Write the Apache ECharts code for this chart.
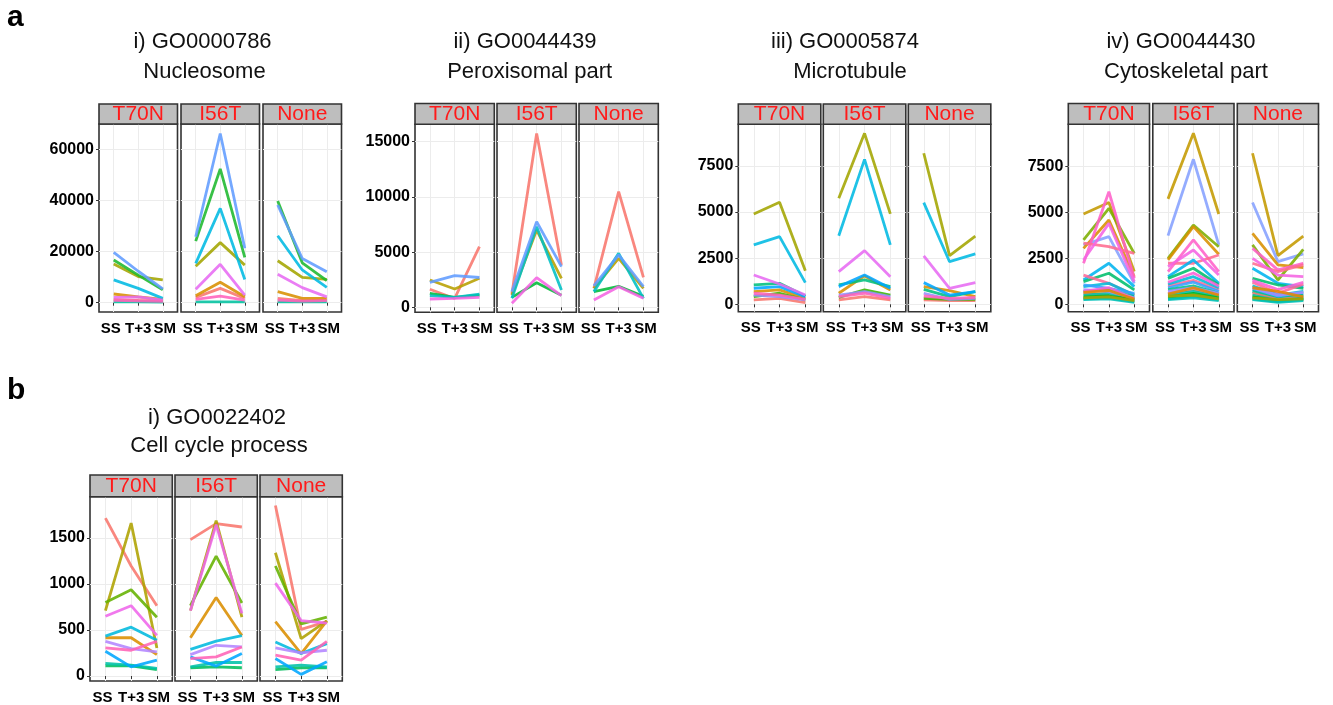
<!DOCTYPE html>
<html><head><meta charset="utf-8">
<script src="https://cdn.jsdelivr.net/npm/echarts@6.0.0/dist/echarts.min.js"></script>
<style>html,body{margin:0;padding:0;background:#fff}#c{width:1333px;height:705px}</style>
</head><body><div id="c"></div><script>
// ---------- categories / labels ----------
const categories = ['SS', 'T+3', 'SM'];
const facetNames = ['T70N', 'I56T', 'None'];
const panelLetters = ['a', 'b'];
const titleLine1 = ['i) GO0000786', 'ii) GO0044439', 'iii) GO0005874', 'iv) GO0044430', 'i) GO0022402'];
const titleLine2 = ['Nucleosome', 'Peroxisomal part', 'Microtubule', 'Cytoskeletal part', 'Cell cycle process'];
const yTickValues = [
  [0, 20000, 40000, 60000],
  [0, 5000, 10000, 15000],
  [0, 2500, 5000, 7500],
  [0, 2500, 5000, 7500],
  [0, 500, 1000, 1500]
];

// ---------- a-i Nucleosome (values per gene: SS, T+3, SM) ----------
const nucleosomeColors = ['#F8766D','#D89000','#A3A500','#1DB82E','#00C19F','#00B9E3','#619CFF','#E76BF3','#FF62BC'];
const nucleosomeT70N = [[1300,900,700],[3400,2300,1300],[15100,10200,8900],[16700,10800,5000],[300,300,200],[8900,5600,1700],[19700,12300,5400],[2100,2300,1000],[900,700,500]];
const nucleosomeI56T = [[2100,5600,1700],[2700,8000,2300],[14300,23500,14700],[24100,52300,17700],[300,300,300],[15400,36900,9100],[25800,66200,21300],[5300,15000,3000],[1300,2600,1000]];
const nucleosomeNone = [[1700,800,1000],[4300,1700,1700],[16400,9900,9100],[39800,15600,8600],[300,300,300],[26200,12800,6000],[38200,17300,12100],[11100,5900,2300],[1000,600,800]];

// ---------- a-ii Peroxisomal part ----------
const peroxisomalColors = ['#F8766D','#B79F00','#00BA38','#00BFC4','#619CFF','#F564E3'];
const peroxisomalT70N = [[1630,800,5500],[2475,1660,2625],[1270,900,1100],[1050,900,1200],[2260,2870,2700],[750,800,900]];
const peroxisomalI56T = [[1200,15750,3830],[1100,7000,2625],[900,2230,1100],[815,7300,1570],[1420,7760,3680],[360,2690,1050]];
const peroxisomalNone = [[1720,10470,2720],[1720,4440,1720],[1420,1900,1000],[1420,4890,815],[1930,4740,1870],[660,1870,815]];

// ---------- a-iii Microtubule ----------
const microtubuleColors = ['#F8766D','#D89000','#A3A500','#39B600','#00BF7D','#00B9E3','#00A6FF','#9590FF','#E76BF3','#FF62BC'];
const microtubuleT70N = [[235,325,90],[690,780,325],[4900,5530,1825],[415,600,235],[1050,1140,450],[3220,3670,1175],[870,960,415],[500,415,235],[1590,1100,500],[600,500,270]];
const microtubuleI56T = [[235,415,235],[600,1540,780],[5750,9270,4900],[380,780,500],[1050,1320,960],[3720,7860,3220],[960,1590,870],[500,690,415],[1770,2910,1500],[415,600,325]];
const microtubuleNone = [[235,200,200],[960,740,415],[8190,2640,3700],[325,270,270],[810,415,690],[5510,2310,2730],[1175,500,690],[600,270,325],[2620,870,1175],[450,325,380]];

// ---------- a-iv Cytoskeletal part ----------
const cytoskeletalColors = ['#C49A00','#85A0FF','#7CAE00','#D89000','#FF61C9','#FF6C91','#F564E3','#00B4EF','#00BE6C','#FF6A98','#00BCD8','#35A2FF','#00C08B','#F8766D','#00C1AA','#00B81F','#A58AFF','#00BB4E','#00C0B8','#FB61D7','#E38900','#AEA200'];
const cytoskeletalT70N = [[4910,5530,1780],[3230,3680,1140],[3500,5220,2770],[3040,4580,1500],[2230,6120,1410],[3320,3130,2770],[2410,4400,1230],[1320,2230,960],[1230,1690,780],[1590,1140,510],[960,1140,510],[1050,870,600],[700,800,400],[600,500,200],[500,600,300],[400,450,250],[800,700,350],[300,350,150],[250,300,100],[700,900,300],[650,750,280],[350,400,200]];
const cytoskeletalI56T = [[5730,9300,4910],[3730,7880,3230],[2500,4310,3130],[2410,4220,2720],[1780,3500,1780],[2230,2230,2680],[2050,2950,1590],[1500,2410,1140],[1410,1960,1050],[1000,1300,800],[1100,1500,900],[900,1200,700],[800,1000,600],[600,800,500],[500,700,400],[400,600,350],[700,900,600],[300,450,250],[250,350,200],[1200,1700,1000],[550,900,500],[450,500,300]];
const cytoskeletalNone = [[8210,2650,3710],[5530,2320,2740],[3230,1320,2990],[3860,2140,2000],[3040,1870,2230],[2230,1780,2140],[2500,1590,1500],[1960,1140,960],[1410,1050,870],[1200,600,1100],[1000,500,700],[800,400,600],[700,300,500],[600,250,400],[500,200,350],[400,200,300],[900,500,650],[300,150,250],[250,100,200],[1300,800,1200],[900,700,400],[350,250,300]];

// ---------- b-i Cell cycle process ----------
const cellCycleColors = ['#F8766D','#DB8E00','#AEA200','#64B200','#00BD5C','#00C1A7','#00BADE','#00A6FF','#B385FF','#EF67EB','#FF63B6'];
const cellCycleT70N = [[1716,1195,764],[416,416,233],[711,1662,305],[800,937,639],[111,111,70],[136,118,83],[434,531,388],[269,100,172],[377,298,262],[650,764,441],[305,280,377]];
const cellCycleI56T = [[1482,1655,1619],[416,854,441],[711,1687,640],[764,1303,793],[90,100,90],[100,147,147],[290,380,440],[208,108,244],[233,334,316],[711,1644,680],[190,208,316]];
const cellCycleNone = [[1852,506,590],[592,244,600],[1339,406,600],[1195,567,639],[70,90,90],[100,118,100],[370,244,352],[190,18,154],[305,251,280],[1009,603,574],[226,172,377]];

// ---------- assemble ----------
const panels = [
  { colors: nucleosomeColors, facets: [nucleosomeT70N, nucleosomeI56T, nucleosomeNone] },
  { colors: peroxisomalColors, facets: [peroxisomalT70N, peroxisomalI56T, peroxisomalNone] },
  { colors: microtubuleColors, facets: [microtubuleT70N, microtubuleI56T, microtubuleNone] },
  { colors: cytoskeletalColors, facets: [cytoskeletalT70N, cytoskeletalI56T, cytoskeletalNone] },
  { colors: cellCycleColors, facets: [cellCycleT70N, cellCycleI56T, cellCycleNone] }
];

// ---------- layout (pixels) ----------
const layout = [
  { left: 99,     w: 78.5, gap: 3.5, stripTop: 104,   top: 124,   bottom: 312,   ymin: -3640, ymax: 69900, tx: [202.5, 204.5], ty: [42, 72] },
  { left: 415,    w: 79.3, gap: 2.7, stripTop: 103.5, top: 124.3, bottom: 312.3, ymin: -453,  ymax: 16576, tx: [525, 529.7],   ty: [42, 72] },
  { left: 738.3,  w: 82.5, gap: 2.5, stripTop: 104,   top: 124.3, bottom: 311.7, ymin: -401,  ymax: 9760,  tx: [845, 850],     ty: [42, 72] },
  { left: 1068.3, w: 81.2, gap: 3.3, stripTop: 103.5, top: 124.3, bottom: 311.7, ymin: -402,  ymax: 9783,  tx: [1181, 1186],   ty: [42, 72] },
  { left: 90,     w: 82.3, gap: 2.7, stripTop: 475,   top: 496.7, bottom: 682.7, ymin: -54,   ymax: 1948,  tx: [217, 219],     ty: [418, 446] }
];
const letterPos = [[7, 17.6], [7, 390.6]];
const FONT = '"Liberation Sans", Arial, Helvetica, sans-serif';
const xTickVals = categories.map((c, i) => i + 1);
const labelStyleKeys = ['l', 'm', 'r'];
const labelBase = { fontFamily: FONT, fontWeight: 'bold', fontSize: 15, color: '#000' };

const grids = [], xAxes = [], yAxes = [], series = [], graphics = [];

panels.forEach((p, pi) => {
  const L = layout[pi];
  facetNames.forEach((fname, fi) => {
    const gi = grids.length;
    const left = L.left + fi * (L.w + L.gap);
    grids.push({ left: left, top: L.top, width: L.w, height: L.bottom - L.top, show: true,
      borderColor: '#333', borderWidth: 1.6, backgroundColor: '#fff', containLabel: false });
    xAxes.push({ gridIndex: gi, type: 'value', min: 0.4, max: 3.6,
      axisLine: { show: false },
      axisTick: { show: true, length: 3, inside: false, customValues: xTickVals, lineStyle: { color: '#333', width: 1 } },
      axisLabel: { show: true, customValues: xTickVals, margin: 9,
        formatter: v => { const i = Math.round(v) - 1; return '{' + labelStyleKeys[i] + '|' + categories[i] + '}'; },
        rich: {
          l: Object.assign({ padding: [0, 6, 0, 0] }, labelBase),
          m: Object.assign({}, labelBase),
          r: Object.assign({ padding: [0, 0, 0, 4] }, labelBase)
        } },
      splitLine: { show: true, lineStyle: { color: '#ececec', width: 1 } } });
    yAxes.push({ gridIndex: gi, type: 'value', min: L.ymin, max: L.ymax,
      axisLine: { show: false },
      axisTick: { show: fi === 0, length: 3, customValues: yTickValues[pi], lineStyle: { color: '#333', width: 1 } },
      axisLabel: { show: fi === 0, customValues: yTickValues[pi], formatter: v => String(Math.round(v)),
        fontFamily: FONT, fontWeight: 'bold', fontSize: 16, color: '#000', margin: 5 },
      splitLine: { show: true, lineStyle: { color: '#ececec', width: 1 } } });
    p.facets[fi].forEach((vals, k) => {
      series.push({ type: 'line', xAxisIndex: gi, yAxisIndex: gi, symbol: 'none', silent: true,
        data: vals.map((v, i) => [i + 1, v]),
        lineStyle: { color: p.colors[k], width: 2.8, opacity: 0.88 }, z: 3 });
    });
    // facet strip
    graphics.push({ type: 'rect', z: 10,
      shape: { x: left, y: L.stripTop, width: L.w, height: L.top - L.stripTop },
      style: { fill: '#BEBEBE', stroke: '#333', lineWidth: 1.6 } });
    graphics.push({ type: 'text', z: 11,
      style: { text: fname, x: left + L.w / 2, y: (L.stripTop + L.top) / 2 + 0.5, fill: '#FF1A1A',
        font: '21px ' + FONT, align: 'center', verticalAlign: 'middle' } });
  });
  graphics.push({ type: 'text', z: 11, style: { text: titleLine1[pi], x: L.tx[0], y: L.ty[0], fill: '#111',
    font: '22px ' + FONT, align: 'center', verticalAlign: 'middle' } });
  graphics.push({ type: 'text', z: 11, style: { text: titleLine2[pi], x: L.tx[1], y: L.ty[1], fill: '#111',
    font: '22px ' + FONT, align: 'center', verticalAlign: 'middle' } });
});
panelLetters.forEach((t, i) => {
  graphics.push({ type: 'text', z: 11, style: { text: t, x: letterPos[i][0], y: letterPos[i][1], fill: '#000',
    font: 'bold 30px ' + FONT, align: 'left', verticalAlign: 'middle' } });
});

const chart = echarts.init(document.getElementById('c'));
chart.setOption({
  animation: false,
  backgroundColor: '#fff',
  grid: grids, xAxis: xAxes, yAxis: yAxes, series: series,
  graphic: { elements: graphics }
});
</script></body></html>
